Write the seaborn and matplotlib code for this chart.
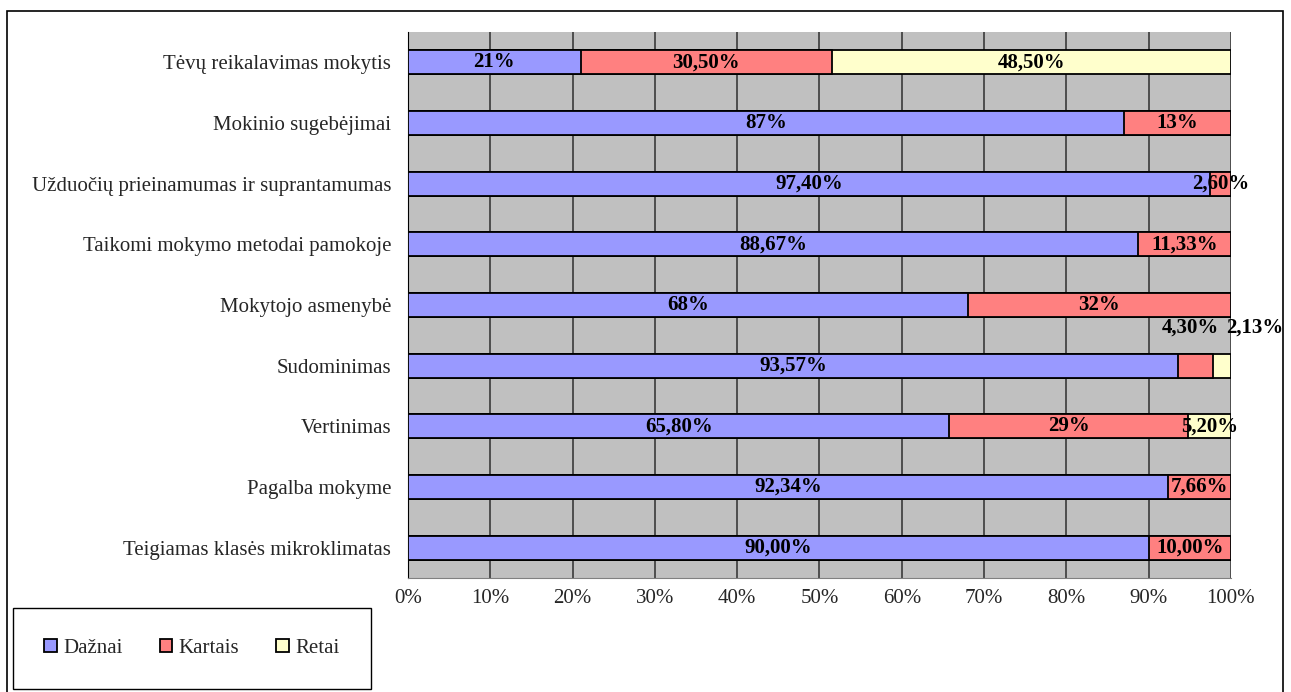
import pandas as pd
import seaborn as sns
import matplotlib.pyplot as plt
from matplotlib.patches import Rectangle, Patch

# Duomenys (procentai)
kategorijos = ['Tėvų reikalavimas mokytis', 'Mokinio sugebėjimai',
               'Užduočių prieinamumas ir suprantamumas', 'Taikomi mokymo metodai pamokoje',
               'Mokytojo asmenybė', 'Sudominimas', 'Vertinimas',
               'Pagalba mokyme', 'Teigiamas klasės mikroklimatas']
daznai = [21, 87, 97.4, 88.67, 68, 93.57, 65.8, 92.34, 90.0]
kartais = [30.5, 13, 2.6, 11.33, 32, 4.3, 29, 7.66, 10.0]
retai = [48.5, 0, 0, 0, 0, 2.13, 5.2, 0, 0]
daznai_lbl = ['21%', '87%', '97,40%', '88,67%', '68%', '93,57%', '65,80%', '92,34%', '90,00%']
kartais_lbl = ['30,50%', '13%', '2,60%', '11,33%', '32%', '4,30%', '29%', '7,66%', '10,00%']
retai_lbl = ['48,50%', '', '', '', '', '2,13%', '5,20%', '', '']
serijos = ['Dažnai', 'Kartais', 'Retai']
spalvos = ['#9999FF', '#FF8080', '#FFFFCC']

df = pd.DataFrame({'kat': kategorijos, 'Dažnai': daznai, 'Kartais': kartais, 'Retai': retai})
df['c1'] = df['Dažnai']
df['c2'] = df['c1'] + df['Kartais']
df['c3'] = df['c2'] + df['Retai']

sns.set_style('white')
plt.rcParams['font.family'] = ['Liberation Serif', 'DejaVu Serif']

fig = plt.figure(figsize=(12.91, 6.92), dpi=100)
ax = fig.add_axes([0.316, 0.1647, 0.6375, 0.7891])
ax.set_facecolor('#C0C0C0')

# sukaupti stulpeliai, piešiami nuo didžiausio
for col, spalva in zip(['c3', 'c2', 'c1'], spalvos[::-1]):
    sns.barplot(data=df, x=col, y='kat', orient='h', color=spalva, width=0.4,
                edgecolor='black', linewidth=1.3, saturation=1, ax=ax, zorder=3)

# reikšmių etiketės
for i in range(len(kategorijos)):
    starts = [0, df['c1'][i], df['c2'][i]]
    vals = [daznai[i], kartais[i], retai[i]]
    lbls = [daznai_lbl[i], kartais_lbl[i], retai_lbl[i]]
    for s, v, l in zip(starts, vals, lbls):
        if not l:
            continue
        x = s + v / 2
        y = i
        if kategorijos[i] == 'Sudominimas' and v < 5:
            y = i - 0.62
            if l == '2,13%':
                x += 4
            else:
                x -= 0.6
        ax.text(x, y, l, ha='center', va='center', fontsize=15,
                fontweight='bold', color='black', zorder=5)

ax.set_xlim(0, 100)
ax.set_ylim(len(kategorijos) - 0.5, -0.5)
ax.set_xticks(range(0, 101, 10))
ax.set_xticklabels([f'{t}%' for t in range(0, 101, 10)], fontsize=15)
ax.set_yticks(range(len(kategorijos)))
ax.set_yticklabels(kategorijos, fontsize=15)
ax.set_yticks([k + 0.5 for k in range(-1, len(kategorijos))], minor=True)
ax.tick_params(axis='y', which='major', length=0, pad=12)
ax.tick_params(axis='y', which='minor', length=6, width=1, color='black', direction='out')
ax.tick_params(axis='x', length=5, width=1, color='black', direction='out', pad=3)
ax.set_xlabel('')
ax.set_ylabel('')
ax.grid(axis='x', color='#3a3a3a', linewidth=1.2, zorder=0)
ax.set_axisbelow(True)
for s in ['top', 'right']:
    ax.spines[s].set_visible(False)
ax.spines['left'].set_color('black')
ax.spines['bottom'].set_color('#808080')

# legenda
rankos = [Patch(facecolor=c, edgecolor='black', linewidth=1.3) for c in spalvos]
fig.legend(rankos, serijos, ncol=3, loc='lower left',
           bbox_to_anchor=(0.010, 0.004, 0.277, 0.116), mode='expand',
           fontsize=15, frameon=True, fancybox=False, edgecolor='black',
           handlelength=0.6, handleheight=0.6, handletextpad=0.3,
           borderaxespad=0, borderpad=1.5, framealpha=1)

# rėmelis aplink visą diagramą
fig.patches.append(Rectangle((7 / 1291, -0.01), 1276 / 1291, 1 - 11 / 692 + 0.01,
                             transform=fig.transFigure, fill=False,
                             edgecolor='black', linewidth=1.2))

plt.savefig('out.png', dpi=100)
